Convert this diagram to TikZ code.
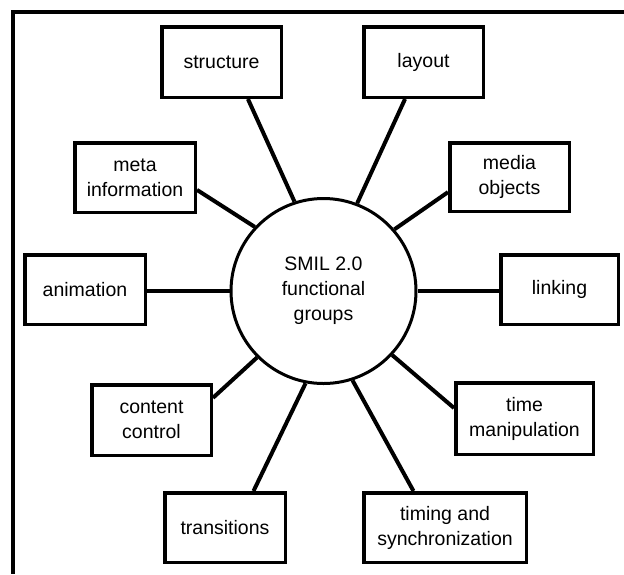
\documentclass[tikz,border=0pt]{standalone}
\usepackage{fontspec}
\setmainfont{Liberation Sans}
\usetikzlibrary{calc}
\begin{document}
\begin{tikzpicture}[x=1pt,y=-1pt,
  group/.style={draw, line width=3.5pt, fill=white, align=center, inner sep=2pt,
    font=\fontsize{19.5}{25}\selectfont},
  hub/.style={draw, circle, line width=3pt, minimum size=185pt, inner sep=0pt,
    align=center, font=\fontsize{19.5}{25}\selectfont},
  link/.style={line width=4pt}]
\useasboundingbox (0,0) rectangle (624,574);
% outer frame (top and left edges)
\draw[line width=3.5pt] (624,12) -- (13,12) -- (13,574);

% central hub
\node[hub] (c) at (323.5,291) {SMIL 2.0\\functional\\groups};

% functional groups
\node[group, minimum width=119.5pt, minimum height=70.5pt] (structure) at (221.5,62) {structure};
\node[group, minimum width=119.5pt, minimum height=70.5pt] (layout) at (423.5,62) {layout};
\node[group, minimum width=120.5pt, minimum height=69.5pt] (meta) at (135,177.5) {meta\\information};
\node[group, minimum width=119.5pt, minimum height=68.5pt] (media) at (509.5,177) {media\\objects};
\node[group, minimum width=120.5pt, minimum height=69.5pt] (anim) at (85,289.5) {animation};
\node[group, minimum width=117.5pt, minimum height=69.5pt] (linking) at (559.5,289.5) {linking};
\node[group, minimum width=119.5pt, minimum height=70.5pt] (content) at (151.5,420) {content\\control};
\node[group, minimum width=137.5pt, minimum height=71.5pt] (timeman) at (524.5,418.5) {time\\manipulation};
\node[group, minimum width=120.5pt, minimum height=69.5pt] (trans) at (225,527.5) {transitions};
\node[group, minimum width=162.5pt, minimum height=69.5pt] (timing) at (445,527.5) {timing and\\synchronization};

% connectors from the hub to each group
\draw[link] (c.108.3) -- ($(structure.south west)!0.715!(structure.south east)$);
\draw[link] (c.69.4) -- ($(layout.south west)!0.35!(layout.south east)$);
\draw[link] (c.137) -- ($(meta.north east)!0.67!(meta.south east)$);
\draw[link] (c.41.4) -- ($(media.north west)!0.71!(media.south west)$);
\draw[link] (c.180) -- (c.180 -| anim.east);
\draw[link] (c.0) -- (c.0 -| linking.west);
\draw[link] (c.225.2) -- ($(content.north east)!0.2!(content.south east)$);
\draw[link] (c.-43) -- ($(timeman.north west)!0.36!(timeman.south west)$);
\draw[link] (c.259) -- ($(trans.north west)!0.73!(trans.north east)$);
\draw[link] (c.-72.4) -- ($(timing.north west)!0.31!(timing.north east)$);
\end{tikzpicture}
\end{document}
